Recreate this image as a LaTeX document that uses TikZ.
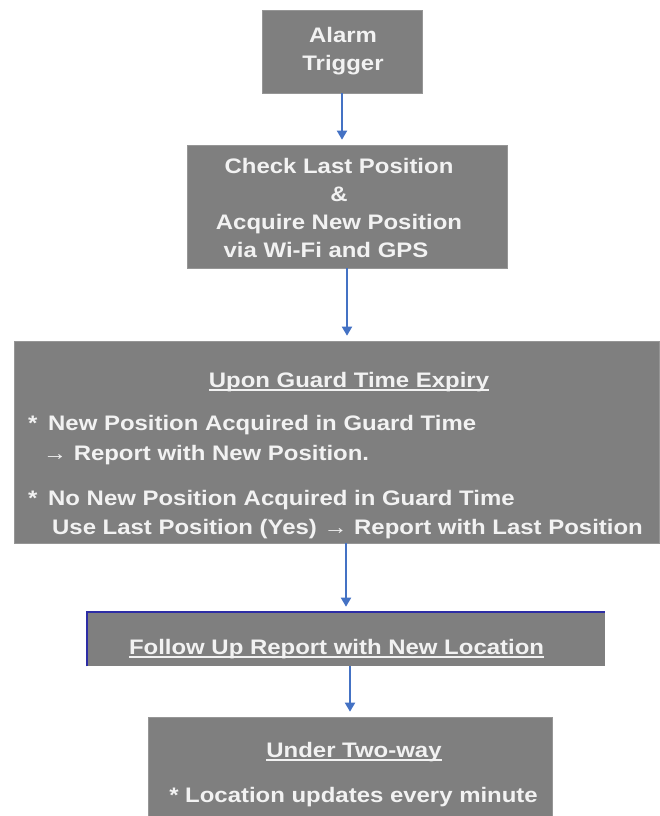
\documentclass[tikz,border=0pt]{standalone}
\usepackage{fontspec}
\usepackage{tikz}
\usetikzlibrary{shapes,arrows,arrows.meta,positioning}
\newfontfamily\boxfont[FakeStretch=1.14]{Liberation Sans Bold}
\definecolor{boxgray}{RGB}{127,127,127}
\definecolor{boxedge}{RGB}{150,150,150}
\definecolor{txtwhite}{RGB}{242,242,242}
\definecolor{flowblue}{RGB}{68,114,196}
\definecolor{navyline}{RGB}{45,45,165}
\newsavebox\ulbox
\newcommand\uln[1]{\sbox\ulbox{#1}\rlap{\rule[-3pt]{\wd\ulbox}{1.3pt}}\usebox\ulbox}
\tikzset{
	graybox/.style={fill=boxgray,draw=boxedge,line width=0.6pt,inner sep=0pt},
	boxtext/.style={text=txtwhite,font=\boxfont\fontsize{21}{28}\selectfont,inner sep=0pt},
	flow/.style={draw=flowblue,line width=1.8pt,-{Triangle[length=9pt,width=10pt]},shorten >=5pt}
}

\begin{document}
\begin{tikzpicture}[x=1pt,y=-1pt]
	\useasboundingbox (0,0) rectangle (659,816);
	% boxes
	\node[graybox,minimum width=160pt,minimum height=83pt] (trigger) at (342,51.5) {};
	\node[graybox,minimum width=320pt,minimum height=123pt] (acquire) at (347,206.5) {};
	\node[graybox,minimum width=645pt,minimum height=202pt] (expiry) at (336.5,442) {};
	\node[graybox,draw=none,minimum width=518pt,minimum height=54pt] (followup) at (346,639) {};
	\node[graybox,minimum width=404pt,minimum height=99pt] (twoway) at (350,766.5) {};
	\draw[navyline,line width=2.2pt] (followup.south west) -- (followup.north west) -- (followup.north east);
	% texts
	\node[boxtext,align=center] (triggertxt) at (343,51) {Alarm\\Trigger};
	\node[boxtext,align=center] (acquiretxt) at (339,207.5) {Check Last Position\\\&\\Acquire New Position\\via Wi-Fi and GPS\hspace*{26pt}};
	\node[boxtext,anchor=base] (expirytitle) at (349,387.5) {\uln{Upon Guard Time Expiry}};
	\node[boxtext,anchor=base west] (staronea) at (28,430.5) {*};
	\node[boxtext,anchor=base west] (newpos) at (48,430.5) {New Position Acquired in Guard Time};
	\node[boxtext,anchor=base west] (newrep) at (43,460.5) {\textrightarrow\ Report with New Position.};
	\node[boxtext,anchor=base west] (startwo) at (28,505.5) {*};
	\node[boxtext,anchor=base west] (nopos) at (48,505.5) {No New Position Acquired in Guard Time};
	\node[boxtext,anchor=base west] (lastrep) at (52,534.5) {Use Last Position (Yes) \textrightarrow\ Report with Last Position};
	\node[boxtext,anchor=base] (followtxt) at (336.5,654.5) {\uln{Follow Up Report with New Location}};
	\node[boxtext,anchor=base] (twowaytitle) at (354,757.5) {\uln{Under Two-way}};
	\node[boxtext,anchor=base] (updatetxt) at (353.5,802.5) {* Location updates every minute};
	% connectors
	\draw[flow] (trigger.south) -- (trigger.south |- acquire.north);
	\draw[flow] (acquire.south) -- (acquire.south |- expiry.north);
	\draw[flow] (expiry.south -| followup.north) -- (followup.north);
	\draw[flow] (followup.south -| twoway.north) -- (twoway.north);
\end{tikzpicture}
\end{document}
